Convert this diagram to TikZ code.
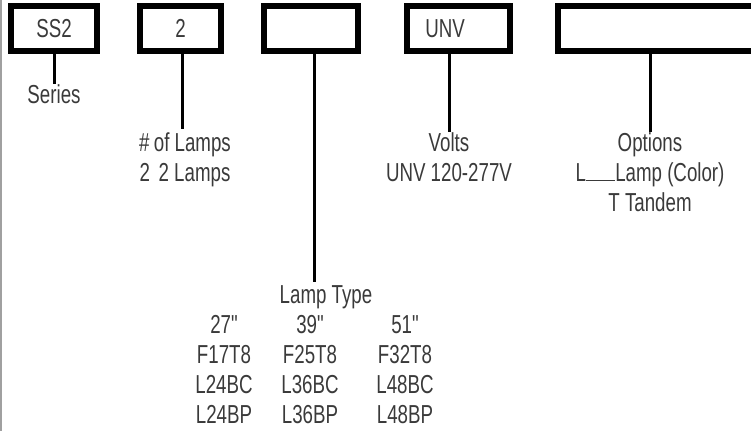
\documentclass[tikz,border=0pt]{standalone}
\usepackage{fontspec}
\setmainfont{Liberation Sans}[FakeStretch=0.72,Ligatures=TeXOff]
\usetikzlibrary{positioning}
\definecolor{ink}{HTML}{3A3A3A}
\definecolor{rulegray}{HTML}{A0A0A0}
\tikzset{
  codebox/.style={draw=black,line width=4.5pt,minimum height=33.75pt,inner sep=0pt,
    text=ink,font=\fontsize{19.5}{22.5}\selectfont},
  lead/.style={draw=black,line width=2.25pt},
  lbl/.style={text=ink,align=center,inner sep=0pt,font=\fontsize{19.5}{22.5}\selectfont}}
\begin{document}
\begin{tikzpicture}[x=0.75pt,y=-0.75pt]
\useasboundingbox (0,0) rectangle (751,431);
\draw[rulegray,line width=1.5pt](1,0)--(1,431);
% code boxes
\node[codebox,minimum width=64.5pt](ss2)at(54,28.5){SS2};
\node[codebox,minimum width=60.75pt](lamps)at(180.5,28.5){2};
\node[codebox,minimum width=70.5pt](type)at(311,28.5){};
\node[codebox,minimum width=77.25pt](volts)at(458.5,28.5){\hspace*{-20pt}UNV};
\node[codebox,minimum width=180pt,anchor=west](opts)at(555,28.5){};
% labels
\node[lbl,anchor=north](series)at(54,84){Series};
\node[lbl,anchor=north](nlamps)at(185,132){\#\,of Lamps\\2\,\,2 Lamps};
\node[lbl,anchor=north](vlabel)at(449,132){Volts\\UNV 120-277V};
\node[lbl,anchor=north](olabel)at(650,132){Options\\L\rule{22pt}{0.6pt}Lamp (Color)\\T Tandem};
\node[lbl,anchor=north](tlabel)at(326,285){Lamp Type};
\node[lbl,anchor=north](col27)at(224,315){27"\\F17T8\\L24BC\\L24BP};
\node[lbl,anchor=north](col39)at(310,315){39"\\F25T8\\L36BC\\L36BP};
\node[lbl,anchor=north](col51)at(405,315){51"\\F32T8\\L48BC\\L48BP};
% leaders
\draw[lead](ss2.south)--(series.north);
\draw[lead](lamps.south-|182,0)--(182,129);
\draw[lead](type.south-|314,0)--(314,282);
\draw[lead](volts.south-|vlabel.north)--(vlabel.north);
\draw[lead](opts.south-|olabel.north)--(olabel.north);
\end{tikzpicture}
\end{document}
